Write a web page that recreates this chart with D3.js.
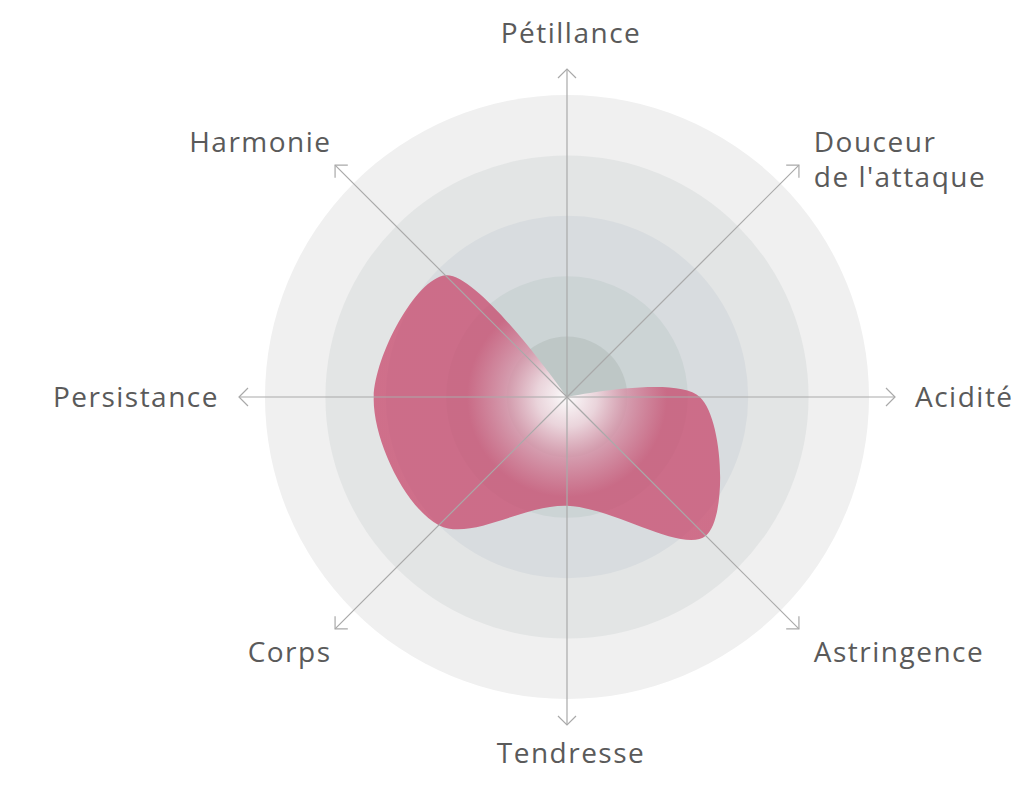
<!DOCTYPE html>
<html><head><meta charset="utf-8">
<script src="https://cdn.jsdelivr.net/npm/d3@7"></script>
<style>body{margin:0;background:#fff;} svg text{font-family:'Open Sans',sans-serif;}</style>
</head><body><svg id="chart" width="1024" height="789"></svg>
<script>
// ---- data ----
const axisNames = ["Pétillance","Douceur de l'attaque","Acidité","Astringence","Tendresse","Corps","Persistance","Harmonie"];
const axisLabelLines = [["Pétillance"],["Douceur","de l'attaque"],["Acidité"],["Astringence"],["Tendresse"],["Corps"],["Persistance"],["Harmonie"]];
const tasteValues = [0, 0, 2.2, 3.25, 1.8, 3.0, 3.2, 2.85];
const levels = [5, 4, 3, 2, 1];
const levelColors = ["#f0f0f0","#e3e5e5","#d8dcdf","#ccd4d5","#bec7c6"];
const maxValue = 5;

// ---- layout ----
const cx = 567, cy = 397;
const svg = d3.select("#chart");
const r = d3.scaleLinear().domain([0, maxValue]).range([0, 302]);
const n = axisNames.length;
const angle = d3.scaleLinear().domain([0, n]).range([-Math.PI/2, 3*Math.PI/2]);
const g = svg.append("g").attr("transform", `translate(${cx},${cy})`);

const defs = svg.append("defs");
const grad = defs.append("radialGradient").attr("id","glow")
  .attr("gradientUnits","userSpaceOnUse").attr("cx",0).attr("cy",0).attr("r", 100);
grad.append("stop").attr("offset","0").attr("stop-color","#ffffff").attr("stop-opacity",0.95);
grad.append("stop").attr("offset","0.3").attr("stop-color","#f0d6de").attr("stop-opacity",0.88);
grad.append("stop").attr("offset","0.62").attr("stop-color","#d68ba2").attr("stop-opacity",0.8);
grad.append("stop").attr("offset","1").attr("stop-color","#c8486c").attr("stop-opacity",0.75);

// rings
g.selectAll("circle.level").data(levels).join("circle")
  .attr("class","level").attr("r", d => r(d))
  .attr("fill", (d,i) => levelColors[i]);

// shape
const line = d3.lineRadial()
  .angle((d,i) => angle(i) + Math.PI/2)
  .radius(d => r(d))
  .curve(d3.curveCatmullRomClosed.alpha(0.5));
g.append("path").datum(tasteValues).attr("d", line).attr("fill","url(#glow)");

// axes
const axisEnd = r(maxValue) + 26;
const axG = g.selectAll("g.axis").data(axisNames).join("g").attr("class","axis")
  .attr("transform", (d,i) => `rotate(${angle(i)*180/Math.PI})`);
axG.append("line").attr("x1",0).attr("y1",0).attr("x2",axisEnd).attr("y2",0)
  .attr("stroke","#a9a9a9").attr("stroke-width",1.2);
axG.append("path").attr("d", `M${axisEnd-9},-9 L${axisEnd},0 L${axisEnd-9},9`)
  .attr("fill","none").attr("stroke","#a9a9a9").attr("stroke-width",1.2);

// labels
const fs = 28;
axisLabelLines.forEach((lines, i) => {
  const a = angle(i), c = Math.cos(a), s = Math.sin(a);
  const diag = Math.abs(c) > 0.1 && Math.abs(s) > 0.1;
  let Rx, Ry;
  if (diag) { Rx = c > 0 ? 349 : 333; Ry = 361; }
  else { Rx = 348; Ry = s < 0 ? 364 : 356; }
  const x = c * Rx + (Math.abs(c) < 0.1 ? 4 : 0), y = s * Ry;
  const anchor = c > 0.1 ? "start" : (c < -0.1 ? "end" : "middle");
  const t = g.append("text").attr("x", x).attr("y", y + fs*0.35)
    .attr("text-anchor", anchor).attr("font-size", fs)
    .attr("letter-spacing", 1.5).attr("fill", "#5a5a5a");
  lines.forEach((ln, k) => t.append("tspan").attr("x", x).attr("dy", k === 0 ? 0 : 35).text(ln));
});
</script></body></html>
